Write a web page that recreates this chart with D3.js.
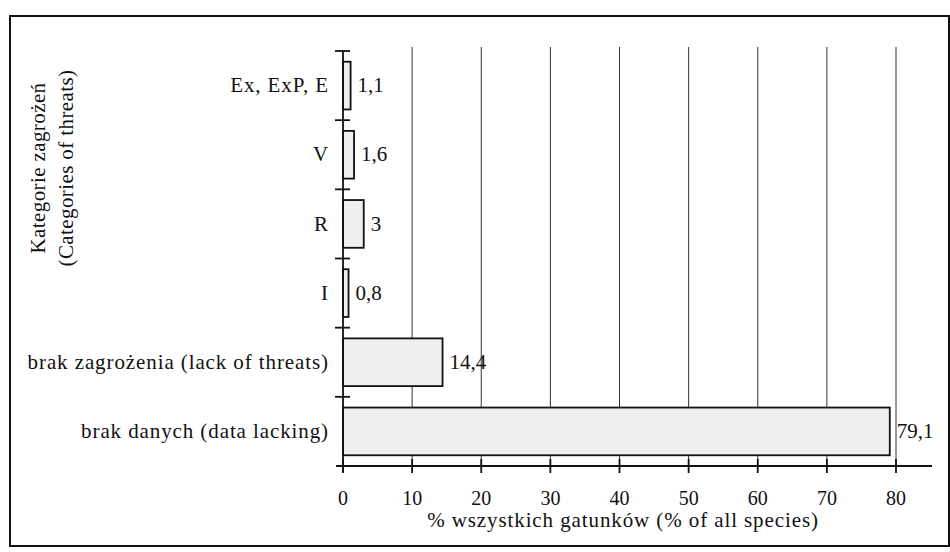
<!DOCTYPE html>
<html>
<head>
<meta charset="utf-8">
<script src="https://cdn.jsdelivr.net/npm/d3@7"></script>
<style>
  body { margin: 0; background: #fff; }
</style>
</head>
<body>
<script>
const categories = [
  "Ex, ExP, E",
  "V",
  "R",
  "I",
  "brak zagrożenia (lack of threats)",
  "brak danych (data lacking)"
];
const values = [1.1, 1.6, 3, 0.8, 14.4, 79.1];
const valueLabels = ["1,1", "1,6", "3", "0,8", "14,4", "79,1"];
const xTicks = [0, 10, 20, 30, 40, 50, 60, 70, 80];

const width = 950;
const height = 552;
const font = "'Liberation Serif', 'Times New Roman', Times, 'DejaVu Serif', serif";

const svg = d3.create("svg")
  .attr("width", width)
  .attr("height", height)
  .attr("viewBox", [0, 0, width, height])
  .style("font-family", font);

// scanned frame
svg.append("rect")
  .attr("x", 10).attr("y", 16)
  .attr("width", 939).attr("height", 530)
  .attr("fill", "none")
  .attr("stroke", "#111")
  .attr("stroke-width", 2);

const x = d3.scaleLinear([0, 80], [343, 896]);
const y = d3.scaleBand(categories, [51, 466]).paddingInner(0.31).paddingOuter(0.155);

// vertical grid lines
svg.append("g")
  .selectAll("line")
  .data(xTicks.filter(d => d > 0))
  .join("line")
  .attr("x1", d => x(d)).attr("x2", d => x(d))
  .attr("y1", 47).attr("y2", 466)
  .attr("stroke", "#333")
  .attr("stroke-width", 1);

// bars
svg.append("g")
  .selectAll("rect")
  .data(values)
  .join("rect")
  .attr("x", x(0))
  .attr("y", (d, i) => y(categories[i]))
  .attr("width", d => x(d) - x(0))
  .attr("height", y.bandwidth())
  .attr("fill", "#efefef")
  .attr("stroke", "#111")
  .attr("stroke-width", 1.8);

// value labels
svg.append("g")
  .selectAll("text")
  .data(values)
  .join("text")
  .attr("x", d => x(d) + 7)
  .attr("y", (d, i) => y(categories[i]) + y.bandwidth() / 2)
  .attr("dy", "0.32em")
  .attr("font-size", 21)
  .attr("fill", "#111")
  .text((d, i) => valueLabels[i]);

// x axis with crossing ticks
const xAxis = svg.append("g").attr("transform", "translate(0,466)");
xAxis.append("line")
  .attr("x1", 336).attr("x2", 932)
  .attr("stroke", "#111").attr("stroke-width", 1.8);
xAxis.selectAll(".tick")
  .data(xTicks)
  .join("line")
  .attr("x1", d => x(d)).attr("x2", d => x(d))
  .attr("y1", -7).attr("y2", 7)
  .attr("stroke", "#111").attr("stroke-width", 1.8);
xAxis.selectAll("text")
  .data(xTicks)
  .join("text")
  .attr("x", d => x(d))
  .attr("y", 39)
  .attr("text-anchor", "middle")
  .attr("font-size", 20)
  .attr("fill", "#111")
  .text(d => d);

svg.append("text")
  .attr("x", 623)
  .attr("y", 527)
  .attr("text-anchor", "middle")
  .attr("font-size", 21)
  .attr("letter-spacing", 0.9)
  .attr("fill", "#111")
  .text("% wszystkich gatunków (% of all species)");

// y axis with category boundary ticks
const yAxis = svg.append("g");
yAxis.append("line")
  .attr("x1", x(0)).attr("x2", x(0))
  .attr("y1", 51).attr("y2", 472)
  .attr("stroke", "#111").attr("stroke-width", 1.8);
const bounds = categories.map(c => y(c) - y.step() * y.paddingInner() / 2);
yAxis.selectAll(".tick")
  .data(bounds)
  .join("line")
  .attr("x1", x(0) - 8).attr("x2", x(0) + 7)
  .attr("y1", d => d).attr("y2", d => d)
  .attr("stroke", "#111").attr("stroke-width", 1.8);
yAxis.selectAll("text")
  .data(categories)
  .join("text")
  .attr("x", 329)
  .attr("y", d => y(d) + y.bandwidth() / 2)
  .attr("dy", "0.32em")
  .attr("text-anchor", "end")
  .attr("font-size", 21)
  .attr("letter-spacing", 0.9)
  .attr("fill", "#111")
  .text(d => d);

// rotated axis title
const title = svg.append("text")
  .attr("transform", "translate(45,168) rotate(-90)")
  .attr("text-anchor", "middle")
  .attr("font-size", 21)
  .attr("letter-spacing", 0.4)
  .attr("fill", "#111");
title.append("tspan").attr("x", 0).attr("y", 0).text("Kategorie zagrożeń");
title.append("tspan").attr("x", 0).attr("y", 28).text("(Categories of threats)");

document.body.appendChild(svg.node());
</script>
</body>
</html>
